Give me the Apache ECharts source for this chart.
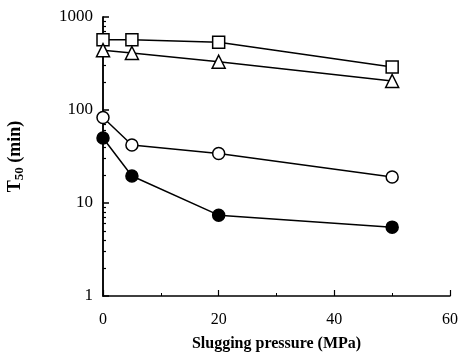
<!DOCTYPE html>
<html><head><meta charset="utf-8">
<script src="https://cdn.jsdelivr.net/npm/echarts@6/dist/echarts.min.js"></script>
<style>html,body{margin:0;padding:0;background:#fff}#c{width:462px;height:358px}</style>
</head><body><div id="c"></div>
<script>
const pressure = [0, 5, 20, 50];
const squares = [570, 570, 535, 290];
const triangles = [440, 410, 330, 205];
const openCircles = [83, 42, 34, 19];
const filledCircles = [50, 19.5, 7.4, 5.5];
const yTicks = [1, 10, 100, 1000];
const yMinorTicks = [2,3,4,5,6,7,8,9,20,30,40,50,60,70,80,90,200,300,400,500,600,700,800,900];
const xTicks = [0, 20, 40, 60];

const font = 'Liberation Serif';
const chart = echarts.init(document.getElementById('c'), null, {renderer: 'canvas'});
function ser(data, symbol, fill) {
  return {
    type: 'line', yAxisIndex: 0, data: pressure.map((p, i) => [p, data[i]]),
    symbol: symbol, symbolSize: symbol === 'triangle' ? 13 : 12,
    lineStyle: {color: '#000', width: 1.5},
    itemStyle: {color: fill, borderColor: '#000', borderWidth: 1.5},
    z: 3
  };
}
chart.setOption({
  animation: false,
  grid: {left: 103, right: 12, top: 17, bottom: 62, outerBoundsMode: 'none', containLabel: false},
  xAxis: {
    type: 'value', min: 0, max: 60, interval: 20,
    axisLine: {lineStyle: {color: '#000', width: 1.5}},
    axisTick: {inside: true, length: 6, lineStyle: {color: '#000', width: 1.2}},
    minorTick: {show: true, splitNumber: 2, length: 3, lineStyle: {color: '#000', width: 1}},
    splitLine: {show: false},
    axisLabel: {color: '#000', fontFamily: font, fontSize: 16, margin: 16,
      customValues: xTicks},
    name: 'Slugging pressure (MPa)', nameLocation: 'middle', nameGap: 40,
    nameTextStyle: {color: '#000', fontFamily: font, fontSize: 16, fontWeight: 'bold'}
  },
  yAxis: [{
    type: 'log', min: 1, max: 1000, logBase: 10,
    axisLine: {show: true, lineStyle: {color: '#000', width: 1.5}},
    axisTick: {show: true, inside: true, length: 6, customValues: yTicks,
      lineStyle: {color: '#000', width: 1.5}},
    splitLine: {show: false},
    axisLabel: {color: '#000', fontFamily: font, fontSize: 17, margin: 10,
      customValues: yTicks, formatter: v => String(v)},
    name: '{t|T}{s|50}{t| (min)}', nameLocation: 'middle', nameGap: 77,
    nameTextStyle: {color: '#000', fontFamily: font, fontSize: 18, fontWeight: 'bold',
      rich: {t: {fontFamily: font, fontSize: 18, fontWeight: 'bold', color: '#000'},
             s: {fontFamily: font, fontSize: 13, fontWeight: 'bold', color: '#000', verticalAlign: 'bottom', padding: [8,0,0,0]}}}
  }, {
    type: 'log', min: 1, max: 1000, logBase: 10, position: 'left', offset: 0,
    axisLine: {show: true, lineStyle: {color: '#000', width: 1.5}},
    axisTick: {show: true, inside: true, length: 3, customValues: yMinorTicks,
      lineStyle: {color: '#000', width: 1.2}},
    axisLabel: {show: false},
    splitLine: {show: false}
  }],
  series: [
    ser(squares, 'rect', '#fff'),
    ser(triangles, 'triangle', '#fff'),
    ser(openCircles, 'circle', '#fff'),
    ser(filledCircles, 'circle', '#000')
  ]
});
</script></body></html>
